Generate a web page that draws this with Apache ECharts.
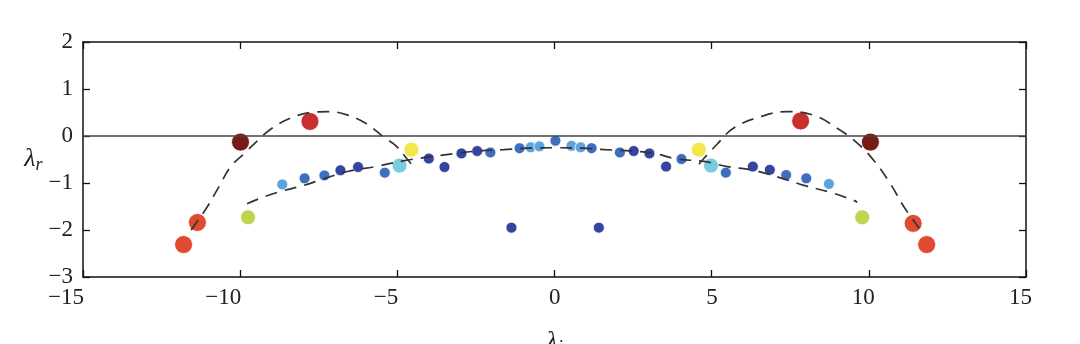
<!DOCTYPE html>
<html>
<head>
<meta charset="utf-8">
<script src="https://cdn.jsdelivr.net/npm/echarts@6/dist/echarts.min.js"></script>
<style>
html,body{margin:0;padding:0;background:#fff;}
#chart{width:1080px;height:344px;}
</style>
</head>
<body>
<div id="chart"></div>
<script>
// Axis ticks
const xTicks = [-15, -10, -5, 0, 5, 10, 15];
const yTicks = [-3, -2, -1, 0, 1, 2];

// Eigenvalue points grouped by colour
const outerRed = [[-11.80, -2.31], [-11.36, -1.84], [11.41, -1.86], [11.84, -2.31]];
const topRed = [[-7.78, 0.31], [7.83, 0.32]];
const darkRed = [[-9.99, -0.13], [10.05, -0.13]];
const yellowPts = [[-4.55, -0.29], [4.59, -0.29]];
const yellowGreen = [[-9.75, -1.73], [9.79, -1.73]];
const cyanPts = [[-4.93, -0.63], [4.98, -0.63]];
const darkBlue = [[-6.81, -0.73], [-6.25, -0.66], [-4.00, -0.48], [-3.50, -0.66], [-2.96, -0.37], [-2.46, -0.32],
                  [2.52, -0.32], [3.02, -0.37], [3.55, -0.65], [6.31, -0.65], [6.85, -0.72],
                  [-1.37, -1.95], [1.41, -1.95]];
const midBlue = [[-7.95, -0.90], [-7.32, -0.84], [-5.40, -0.78], [-2.04, -0.35], [-1.11, -0.26], [0.03, -0.10],
                 [1.18, -0.26], [2.08, -0.35], [4.04, -0.49], [5.45, -0.78], [7.37, -0.83], [8.01, -0.90]];
const lightBlue = [[-8.66, -1.03], [-0.76, -0.24], [-0.48, -0.22], [0.54, -0.21], [0.83, -0.24], [8.73, -1.02]];

// Dashed curves
const outerLeft = [[-11.56, -2.0], [-11.05, -1.51], [-10.66, -1.06], [-10.30, -0.65], [-9.85, -0.36], [-9.45, -0.10],
                   [-9.02, 0.15], [-8.40, 0.38], [-7.76, 0.50], [-7.20, 0.52], [-6.60, 0.45], [-5.98, 0.26],
                   [-5.44, -0.02], [-5.06, -0.20], [-4.69, -0.49], [-4.55, -0.60]];
const outerRight = [[4.60, -0.60], [4.72, -0.50], [5.18, -0.17], [5.70, 0.17], [6.55, 0.41], [7.40, 0.52],
                    [8.25, 0.44], [8.96, 0.18], [9.58, -0.12], [10.16, -0.52], [10.69, -1.02], [11.12, -1.51],
                    [11.60, -1.96]];
const innerCurve = [[-9.78, -1.44], [-9.14, -1.27], [-8.61, -1.16], [-7.97, -1.05], [-7.25, -0.89], [-6.55, -0.75],
                    [-5.69, -0.65], [-4.82, -0.53], [-4.05, -0.45], [-3.25, -0.38], [-2.46, -0.32], [-1.61, -0.29],
                    [-0.87, -0.26], [0.0, -0.25], [0.87, -0.26], [1.61, -0.29], [2.46, -0.32], [3.16, -0.37],
                    [3.90, -0.49], [4.75, -0.54], [5.49, -0.65], [6.34, -0.73], [7.19, -0.89], [7.93, -1.05],
                    [8.78, -1.20], [9.52, -1.37], [9.63, -1.41]];

const SERIF = '"Liberation Serif", "DejaVu Serif", serif';
const LABEL_SIZE = 23;
const fmt = v => (v < 0 ? '\u2212' + Math.abs(v) : String(v));

// x tick labels in the original sit with their right edge just right of the tick
// (negatives: +1px, positives: +6px); emulate with spacer tokens.
const measureCtx = document.createElement('canvas').getContext('2d');
measureCtx.font = LABEL_SIZE + 'px ' + SERIF;
const xRich = { t: { fontFamily: SERIF, fontSize: LABEL_SIZE, color: '#222' } };
const xLabelStr = {};
xTicks.forEach((v, i) => {
  const s = fmt(v);
  const w = measureCtx.measureText(s).width;
  const target = v < 0 ? 1 : 6;             // desired right-edge offset from tick
  const S = w - 2 * target;                  // spacer after (>0) or before (<0)
  xRich['s' + i] = { fontFamily: SERIF, fontSize: LABEL_SIZE, width: Math.max(0.1, Math.abs(S)) };
  xLabelStr[v] = S >= 0 ? '{t|' + s + '}{s' + i + '| }' : '{s' + i + '| }{t|' + s + '}';
});
const fmtX = v => (xLabelStr[v] !== undefined ? xLabelStr[v] : fmt(v));

function scat(data, color, size) {
  return {
    type: 'scatter', data: data, symbolSize: size, z: 2,
    itemStyle: { color: color, opacity: 1, borderColor: 'rgba(255,255,255,0.8)', borderWidth: 1 },
    silent: true
  };
}
function dashed(data) {
  return {
    type: 'line', data: data, smooth: 0.4, symbol: 'none', z: 5,
    lineStyle: { color: '#333', width: 1.7, type: [12, 8] },
    silent: true
  };
}

const axisCommon = {
  type: 'value',
  axisLine: { show: true, onZero: false, lineStyle: { color: '#111', width: 1.5 } },
  axisTick: { show: true, inside: true, length: 7, lineStyle: { color: '#111', width: 1.3 } },
  splitLine: { show: false },
};

const option = {
  animation: false,
  backgroundColor: '#fff',
  grid: { left: 83, right: 54, top: 42, bottom: 67, containLabel: false, outerBoundsMode: 'none' },
  xAxis: [
    Object.assign({}, axisCommon, {
      min: xTicks[0], max: xTicks[xTicks.length - 1], interval: 5, position: 'bottom',
      axisLabel: {
        show: true, margin: 9, fontFamily: SERIF, fontSize: LABEL_SIZE, color: '#222', formatter: fmtX,
        align: 'center', rich: xRich
      },
      name: '{a|\u03bb}{b|i}', nameLocation: 'middle', nameGap: 50,
      nameTextStyle: {
        rich: {
          a: { fontFamily: SERIF, fontStyle: 'italic', fontSize: 26, color: '#222' },
          b: { fontFamily: SERIF, fontStyle: 'italic', fontSize: 18, color: '#222', padding: [12, 0, 0, 0] }
        }
      }
    }),
    Object.assign({}, axisCommon, {
      min: xTicks[0], max: xTicks[xTicks.length - 1], interval: 5, position: 'top',
      axisLabel: { show: false }
    })
  ],
  yAxis: [
    Object.assign({}, axisCommon, {
      min: yTicks[0], max: yTicks[yTicks.length - 1], interval: 1, position: 'left',
      axisLabel: { show: true, margin: 10, fontFamily: SERIF, fontSize: LABEL_SIZE, color: '#222', formatter: fmt },
      name: '{a|\u03bb}{b|r}', nameLocation: 'middle', nameGap: 38, nameRotate: 0,
      nameTextStyle: {
        rich: {
          a: { fontFamily: SERIF, fontStyle: 'italic', fontSize: 26, color: '#222' },
          b: { fontFamily: SERIF, fontStyle: 'italic', fontSize: 18, color: '#222', padding: [12, 0, 0, 0] }
        }
      }
    }),
    Object.assign({}, axisCommon, {
      min: yTicks[0], max: yTicks[yTicks.length - 1], interval: 1, position: 'right',
      axisLabel: { show: false }
    })
  ],
  series: [
    {
      type: 'line', data: [], z: 1, silent: true,
      markLine: {
        silent: true, symbol: 'none', label: { show: false },
        lineStyle: { color: '#444', width: 1.6, type: 'solid' },
        data: [{ yAxis: 0 }]
      }
    },
    scat(darkBlue, '#3344a1', 11),
    scat(midBlue, '#3f6dc0', 11),
    scat(lightBlue, '#5ba4de', 11),
    scat(cyanPts, '#79cbdd', 15),
    scat(yellowPts, '#f2e84a', 15),
    scat(yellowGreen, '#bdd54f', 15),
    scat(outerRed, '#e04a30', 18),
    scat(topRed, '#c9302d', 18),
    scat(darkRed, '#7a1a16', 18),
    dashed(outerLeft),
    dashed(outerRight),
    dashed(innerCurve)
  ]
};

const chart = echarts.init(document.getElementById('chart'), null, { renderer: 'canvas' });
chart.setOption(option);
</script>
</body>
</html>
